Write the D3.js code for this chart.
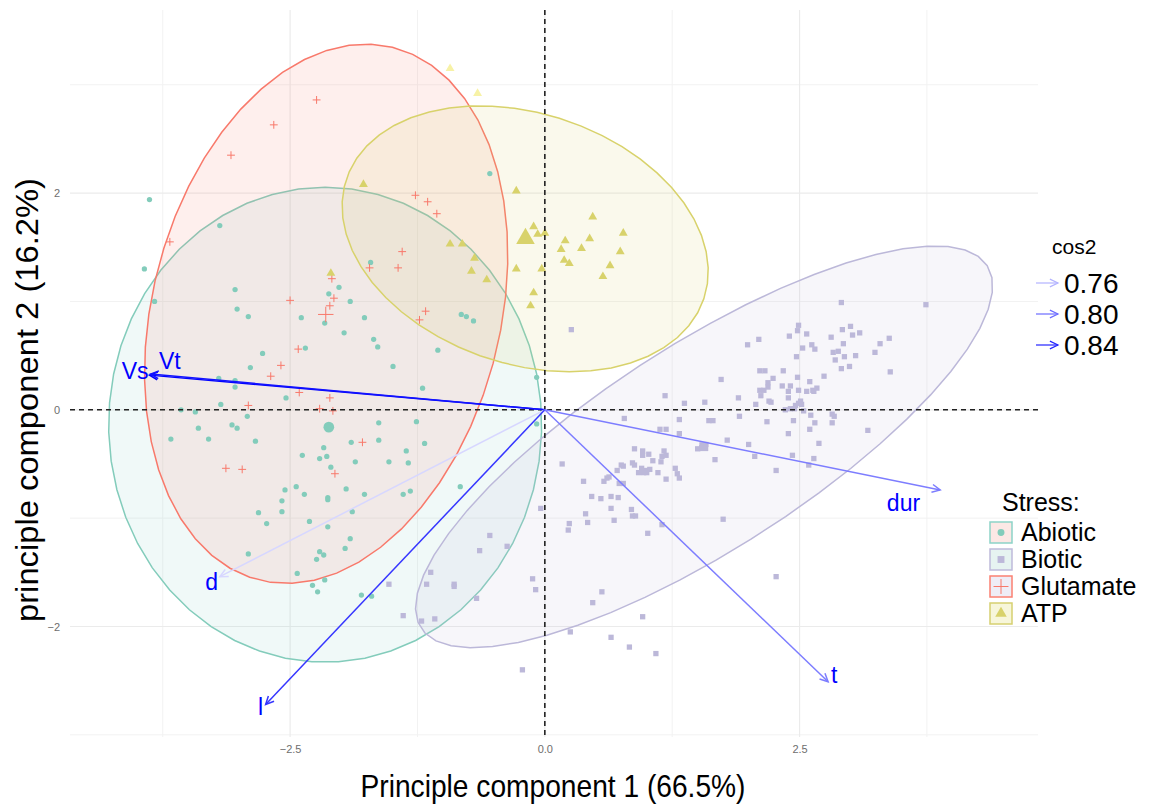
<!DOCTYPE html>
<html>
<head>
<meta charset="utf-8">
<script src="https://cdn.jsdelivr.net/npm/d3@7"></script>
<style>
body { margin: 0; background: #fff; }
text { font-family: "Liberation Sans", Arial, Helvetica, sans-serif; }
</style>
</head>
<body>
<script>
// ---- data (PC1, PC2 scores) ----
var groups = ["Abiotic", "Biotic", "Glutamate", "ATP"]

var abiotic = [[-3.88,1.94],[-3.19,1.70],[-3.93,1.30],[-3.83,1.00],[-3.04,1.11],[-3.02,0.93],[-2.91,0.86],[-2.39,0.85],
  [-2.12,1.07],[-2.02,1.13],[-2.16,0.80],[-1.97,0.71],[-2.35,0.57],[-2.77,0.52],[-2.89,0.39],[-3.20,0.29],[-3.04,0.27],
  [-3.04,0.21],[-2.54,0.11],[-3.18,0.05],[-3.57,0.00],[-3.43,-0.02],[-2.92,-0.06],[-3.40,-0.17],[-3.07,-0.14],[-3.02,-0.17],
  [-3.67,-0.27],[-3.30,-0.27],[-2.84,-0.29],[-2.17,-0.35],[-1.91,1.00],[-1.63,-0.12],[-1.90,-0.30],[-1.63,-0.28],
  [-2.38,-0.42],[-2.21,-0.45],[-2.14,-0.43],[-2.10,-0.53],[-1.86,-0.48],[-1.53,-0.48],[-2.55,-0.74],[-2.44,-0.71],
  [-2.36,-0.78],[-2.13,-0.81],[-2.13,-0.83],[-1.95,-0.73],[-1.77,-0.78],[-2.58,-0.84],[-2.58,-0.94],[-2.81,-0.95],
  [-2.73,-1.05],[-1.89,-0.94],[-2.31,-1.03],[-2.13,-1.08],[-1.91,-1.19],[-1.96,-1.28],[-2.91,-1.33],[-2.21,-1.31],
  [-2.17,-1.34],[-2.24,-1.38],[-2.43,-1.51],[-2.16,-1.57],[-2.28,-1.62],[-2.23,-1.68],[-1.80,-1.71],[-1.70,-1.72],
  [-0.54,2.18],[-1.71,1.36],[-1.77,0.85],[-0.82,0.88],[-0.77,0.86],[-0.70,0.82],[-1.26,-0.11],[-1.18,-0.31],
  [-1.36,-0.38],[-1.34,-0.49],[-1.39,-0.78],[-1.32,-0.75],[-0.83,-0.71],[-0.08,-0.13],[-1.68,0.65],
  [-1.64,0.58],[-1.49,0.40],[-1.05,0.55],[-0.08,0.30],[-1.20,0.20]]

var biotic = [[0.26,0.74],[2.91,0.99],[3.74,0.97],[2.49,0.78],[2.48,0.73],[2.57,0.70],[2.40,0.68],[2.10,0.65],[1.99,0.60],
  [2.92,0.74],[3.00,0.77],[3.09,0.71],[3.02,0.69],[2.81,0.67],[2.93,0.61],[3.38,0.66],[3.29,0.61],[2.62,0.60],[2.53,0.57],
  [2.65,0.56],[2.83,0.53],[2.88,0.54],[3.24,0.53],[2.47,0.49],[2.94,0.49],[3.05,0.50],[2.85,0.46],[2.99,0.40],[2.91,0.38],
  [3.39,0.35],[2.11,0.36],[2.16,0.36],[2.34,0.36],[2.48,0.30],[2.74,0.31],[2.24,0.29],[1.73,0.28],[2.60,0.26],[2.19,0.25],
  [2.19,0.21],[2.33,0.22],[2.41,0.22],[2.11,0.18],[2.15,0.18],[2.39,0.17],[2.49,0.18],[2.57,0.17],[2.63,0.18],[2.67,0.20],
  [2.64,0.17],[1.18,0.13],[1.90,0.11],[2.12,0.13],[2.39,0.11],[2.20,0.08],[2.22,0.07],[2.51,0.08],[1.37,0.06],[1.57,0.07],
  [2.07,0.05],[2.46,0.04],[2.49,0.06],[2.52,0.05],[2.36,0.00],[2.41,0.01],[2.45,0.01],[2.54,-0.01],[0.78,-0.08],[1.32,-0.09],
  [1.91,-0.06],[2.61,-0.05],[2.82,-0.04],[2.84,-0.06],[1.61,-0.10],[1.65,-0.10],[2.18,-0.11],[2.44,-0.10],[2.65,-0.12],
  [2.82,-0.12],[1.13,-0.18],[1.19,-0.18],[2.60,-0.18],[3.17,-0.19],[1.32,-0.22],[2.39,-0.22],[1.79,-0.28],[2.00,-0.32],
  [2.69,-0.31],[1.50,-0.36],[1.58,-0.32],[1.54,-0.35],[2.06,-0.43],[2.43,-0.42],[2.64,-0.45],[2.59,-0.51],[2.27,-0.56],
  [1.67,-0.46],[0.17,-0.50],[0.88,-0.36],[0.96,-0.38],[0.96,-0.42],[1.02,-0.41],[1.17,-0.38],[1.19,-0.42],[1.15,-0.43],
  [1.06,-0.47],[1.14,-0.48],[0.75,-0.51],[0.77,-0.52],[0.86,-0.49],[0.88,-0.51],[0.95,-0.54],[0.99,-0.56],[1.03,-0.55],
  [0.71,-0.56],[0.92,-0.58],[0.97,-0.58],[1.00,-0.58],[1.11,-0.58],[1.28,-0.54],[1.30,-0.59],[1.32,-0.63],[1.19,-0.64],
  [0.38,-0.66],[0.46,-0.80],[0.55,-0.82],[0.65,-0.80],[0.72,-0.81],[0.65,-0.91],[0.85,-0.92],[0.86,-0.98],[0.89,-0.98],
  [0.40,-0.96],[0.42,-1.04],[0.68,-1.02],[0.24,-1.05],[0.23,-1.11],[1.01,-1.14],[1.15,-1.06],[1.75,-1.01],[0.58,-0.66],
  [0.61,-0.63],[0.63,-0.62],[0.73,-0.68],[0.77,-0.68],[2.27,-1.54],[0.96,-1.91],[0.65,-2.10],[0.83,-2.19],[1.09,-2.25],
  [0.56,-1.68],[0.47,-1.78],[0.25,-2.05],[-0.22,-2.40],[-0.12,-1.56],[-0.09,-1.66],[-0.04,-0.91],[-0.54,-1.16],
  [-0.64,-1.30],[-0.37,-1.26],[-1.12,-1.50],[-1.16,-1.61],[-0.89,-1.61],[-0.89,-1.63],[-0.67,-1.74],[-1.39,-1.90],
  [-1.21,-1.95],[-1.08,-1.93],[-1.53,-1.61]]

var glutamate = [[-3.08,2.35],[-3.68,1.55],[-2.50,1.01],[-2.09,1.21],[-2.07,1.03],[-2.11,0.96],[-2.42,0.56],[-2.59,0.41],
  [-2.69,0.31],[-2.41,0.16],[-2.11,0.11],[-2.21,0.01],[-2.08,-0.01],[-2.91,0.04],[-1.79,-0.30],[-3.13,-0.54],[-2.97,-0.55],
  [-2.06,-0.59],[-2.24,2.86],[-2.66,2.63],[-1.27,1.98],[-1.15,1.92],[-1.06,1.81],[-1.40,1.46],[-1.72,1.31],[-1.44,1.31],
  [-1.17,0.91],[-1.23,0.83]]

var atp = [[-1.78,2.08],[-0.28,2.02],[0.47,1.78],[-0.11,1.69],[-0.07,1.62],[0.00,1.63],[0.77,1.63],[0.20,1.56],[0.44,1.58],
  [0.16,1.48],[0.36,1.49],[0.74,1.46],[-0.93,1.53],[-0.81,1.53],[-0.69,1.40],[0.19,1.38],[0.24,1.35],[-0.28,1.30],
  [-0.03,1.30],[0.64,1.33],[-0.72,1.28],[0.57,1.23],[-0.57,1.20],[-0.11,1.08],[-0.14,0.96],[-2.10,1.26]]
var atpFaint = [[-0.93,3.15],[-0.66,2.92]]

var points = [abiotic, biotic, glutamate, atp]

// group means
var means = [[-2.12,-0.16],[1.56,-0.34],[-2.15,0.88],[-0.19,1.58]]

// confidence ellipses: centre and two conjugate semi-axes (PC units)
var ellCenter = [[-2.156,-0.138],[1.563,-0.342],[-2.146,0.886],[-0.193,1.578]]
var ellAxisA = [[0,2.192],[2.779,1.672],[0.65,2.46],[1.754,-0.552]]
var ellAxisB = [[2.125,0],[0.546,-0.801],[1.66,-0.38],[-0.390,-1.096]]

// variables
var varNames = ["Vs", "Vt", "d", "l", "t", "dur"]
var varX = [-3.88, -3.87, -3.19, -2.74, 2.78, 3.88]
var varY = [0.32, 0.33, -1.54, -2.72, -2.51, -0.74]
var varCos2 = [0.86, 0.85, 0.74, 0.83, 0.79, 0.79]
var labelX = [-4.02, -3.68, -3.27, -2.79, 2.84, 3.52]
var labelY = [0.28, 0.38, -1.66, -2.82, -2.52, -0.93]

var cos2Breaks = [0.76, 0.80, 0.84]
var xTicks = [-2.5, 0, 2.5]
var yTicks = [-2, 0, 2]
var xMinor = [-3.75, -1.25, 1.25, 3.75]
var yMinor = [-3, -1, 1, 3]

// ---- styles ----
var col = ["#83ccbb", "#bcb8d9", "#f8796b", "#d8d26b"]
var fillCol = ["#8dd3c7", "#bebada", "#fb8072", "#d6d070"]
var keyFill = ["#fce8e5", "#e6f3f1", "#efedf6", "#f7f6da"]

var W = 1150, H = 805
var svg = d3.select("body").append("svg")
    .attr("width", W)
    .attr("height", H)

var x = d3.scaleLinear().domain([-4.66, 4.84]).range([70, 1038])
var y = d3.scaleLinear().domain([-3.02, 3.69]).range([737, 10])

var cosCol = d3.scaleLinear().domain([0.735, 0.86]).range(["#e0e0ff", "#0000ff"])

// grid
var grid = svg.append("g")
grid.selectAll(".vmin").data(xMinor).enter().append("line")
    .attr("x1", d => x(d)).attr("x2", d => x(d)).attr("y1", y.range()[1]).attr("y2", y.range()[0])
    .attr("stroke", "#f2f2f2").attr("stroke-width", 1)
grid.selectAll(".hmin").data(yMinor).enter().append("line")
    .attr("y1", d => y(d)).attr("y2", d => y(d)).attr("x1", x.range()[0]).attr("x2", x.range()[1])
    .attr("stroke", "#f2f2f2").attr("stroke-width", 1)
grid.selectAll(".vmaj").data(xTicks).enter().append("line")
    .attr("x1", d => x(d)).attr("x2", d => x(d)).attr("y1", y.range()[1]).attr("y2", y.range()[0])
    .attr("stroke", "#ebebeb").attr("stroke-width", 1.2)
grid.selectAll(".hmaj").data(yTicks).enter().append("line")
    .attr("y1", d => y(d)).attr("y2", d => y(d)).attr("x1", x.range()[0]).attr("x2", x.range()[1])
    .attr("stroke", "#ebebeb").attr("stroke-width", 1.2)

// axes
var xAxis = svg.append("g")
    .attr("transform", "translate(0," + (y.range()[0] + 2) + ")")
    .call(d3.axisBottom(x).tickValues(xTicks).tickFormat(d3.format(".1f")).tickSize(0).tickPadding(6))
xAxis.select(".domain").remove()
xAxis.selectAll("text").attr("font-size", 11).attr("fill", "#6e6e6e")
    .style("font-family", "'Liberation Sans', Arial, sans-serif")

var yAxis = svg.append("g")
    .attr("transform", "translate(" + (x.range()[0] - 4) + ",0)")
    .call(d3.axisLeft(y).tickValues(yTicks).tickFormat(d3.format("d")).tickSize(0).tickPadding(6))
yAxis.select(".domain").remove()
yAxis.selectAll("text").attr("font-size", 11).attr("fill", "#6e6e6e")
    .style("font-family", "'Liberation Sans', Arial, sans-serif")

// ellipses
var ellLine = d3.line().x(d => x(d[0])).y(d => y(d[1]))
var ellipsePts = function (i) {
    var c = ellCenter[i], a = ellAxisA[i], b = ellAxisB[i]
    return d3.range(52).map(function (k) {
        var t = k / 51 * 2 * Math.PI
        return [c[0] + a[0] * Math.cos(t) + b[0] * Math.sin(t), c[1] + a[1] * Math.cos(t) + b[1] * Math.sin(t)]
    })
}
groups.forEach(function (g, i) {
    svg.append("path")
        .attr("d", ellLine(ellipsePts(i)) + "Z")
        .attr("fill", fillCol[i])
        .attr("fill-opacity", 0.13)
        .attr("stroke", col[i])
        .attr("stroke-width", 1.5)
})

// points
var shapes = [d3.symbolCircle, d3.symbolSquare, d3.symbolPlus, d3.symbolTriangle]
var sizes = [22, 28, 22, 34]
var meanSizes = [90, 80, 80, 150]

var drawPts = function (data, i, size, color) {
    var stroked = i == 2
    svg.append("g").selectAll("path").data(data).enter().append("path")
        .attr("transform", d => "translate(" + x(d[0]) + "," + y(d[1]) + ")")
        .attr("d", d3.symbol(shapes[i], size))
        .attr("fill", stroked ? "none" : color)
        .attr("stroke", stroked ? color : "none")
        .attr("stroke-width", 1)
}
points.forEach(function (p, i) {
    drawPts(p, i, sizes[i], col[i])
})
drawPts(atpFaint, 3, sizes[3], "#f7f2a6")
means.forEach(function (m, i) {
    drawPts([m], i, meanSizes[i], col[i])
})

// zero lines
svg.append("line")
    .attr("x1", x.range()[0]).attr("x2", x.range()[1]).attr("y1", y(0)).attr("y2", y(0))
    .attr("stroke", "#222").attr("stroke-width", 1.6).attr("stroke-dasharray", "5,4")
svg.append("line")
    .attr("x1", x(0)).attr("x2", x(0)).attr("y1", y.range()[1]).attr("y2", y.range()[0])
    .attr("stroke", "#222").attr("stroke-width", 1.6).attr("stroke-dasharray", "5,4")

// arrows
var arrow = function (g, x0, y0, x1, y1, color, w) {
    var ang = Math.atan2(y1 - y0, x1 - x0), hl = 9, ha = 0.45
    g.append("line").attr("x1", x0).attr("y1", y0).attr("x2", x1).attr("y2", y1)
        .attr("stroke", color).attr("stroke-width", w)
    g.append("path")
        .attr("d", "M" + (x1 - hl * Math.cos(ang - ha)) + "," + (y1 - hl * Math.sin(ang - ha)) +
            "L" + x1 + "," + y1 +
            "L" + (x1 - hl * Math.cos(ang + ha)) + "," + (y1 - hl * Math.sin(ang + ha)))
        .attr("fill", "none").attr("stroke", color).attr("stroke-width", w)
}
var arrows = svg.append("g")
varNames.forEach(function (v, i) {
    arrow(arrows, x(0), y(0), x(varX[i]), y(varY[i]), cosCol(varCos2[i]), 1.5)
})
svg.append("g").selectAll("text").data(varNames).enter().append("text")
    .attr("x", (d, i) => x(labelX[i]))
    .attr("y", (d, i) => y(labelY[i]))
    .attr("text-anchor", "middle")
    .attr("font-size", 23)
    .attr("fill", "#0000ff")
    .text(d => d)

// axis titles
svg.append("text")
    .attr("x", 553).attr("y", 797)
    .attr("text-anchor", "middle")
    .attr("font-size", 32)
    .attr("textLength", 385).attr("lengthAdjust", "spacingAndGlyphs")
    .text("Principle component 1 (66.5%)")
svg.append("text")
    .attr("transform", "translate(38,400) rotate(-90)")
    .attr("text-anchor", "middle")
    .attr("font-size", 31)
    .attr("textLength", 444).attr("lengthAdjust", "spacingAndGlyphs")
    .text("principle component 2 (16.2%)")

// legend: cos2
var leg1 = svg.append("g")
leg1.append("text").attr("x", 1052).attr("y", 254).attr("font-size", 21).text("cos2")
cos2Breaks.forEach(function (b, i) {
    var yy = 283 + i * 31
    arrow(leg1, 1036, yy, 1058, yy, cosCol(b), 1.2)
    leg1.append("text").attr("x", 1064).attr("y", yy + 10).attr("font-size", 28).text(d3.format(".2f")(b))
})

// legend: Stress
var leg2 = svg.append("g")
leg2.append("text").attr("x", 1002).attr("y", 511).attr("font-size", 25).text("Stress:")
groups.forEach(function (g, i) {
    var yy = 522 + i * 27
    leg2.append("rect").attr("x", 990).attr("y", yy).attr("width", 22).attr("height", 21)
        .attr("fill", keyFill[i]).attr("stroke", fillCol[i]).attr("stroke-width", 1.5)
    leg2.append("path")
        .attr("transform", "translate(1001," + (yy + 10.5) + ")")
        .attr("d", d3.symbol(shapes[i], i == 2 ? 75 : sizes[i] * 1.7))
        .attr("fill", i == 2 ? "none" : col[i])
        .attr("stroke", i == 2 ? col[i] : "none")
    leg2.append("text").attr("x", 1021).attr("y", yy + 19).attr("font-size", 25).text(g)
})
</script>
</body>
</html>
